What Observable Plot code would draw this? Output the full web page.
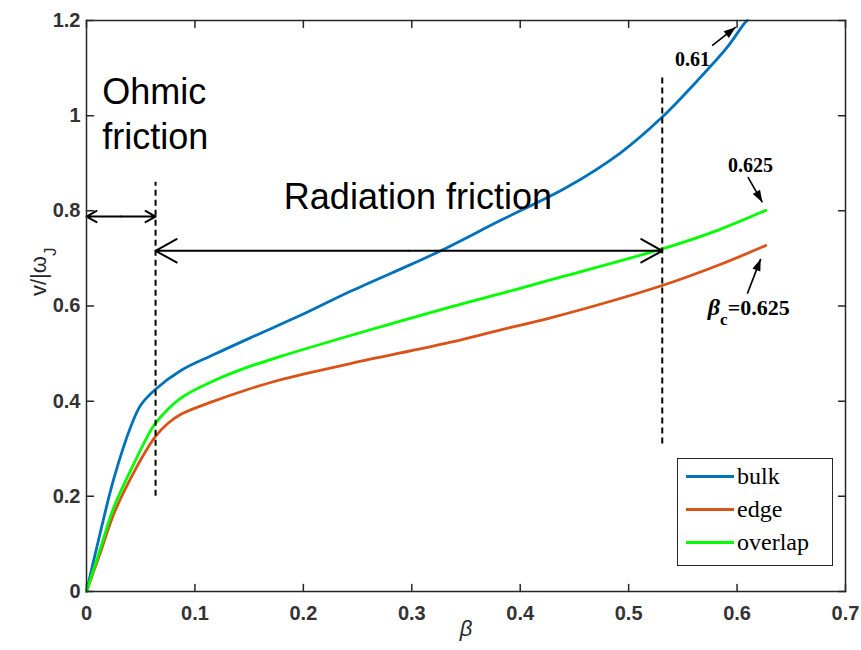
<!DOCTYPE html>
<html><head><meta charset="utf-8">
<script src="https://cdn.jsdelivr.net/npm/d3@7"></script>
<script src="https://cdn.jsdelivr.net/npm/@observablehq/plot@0.6"></script>
<style>
body{margin:0;background:#fff;}
#wrap{position:relative;width:861px;height:650px;}
#legend{position:absolute;left:677px;top:458px;width:156px;height:108px;border:1.5px solid #262626;background:#fff;box-sizing:border-box;font-family:"Liberation Serif","Times New Roman",serif;font-size:24px;color:#000;}
.row{position:absolute;left:8px;height:26px;display:flex;align-items:center;}
.sw{width:48px;height:3px;margin-right:3px;}
</style></head><body><div id="wrap"><div id="chart"></div><div id="legend"></div></div>
<script>
// ---- data ----
const seriesNames = ["bulk", "edge", "overlap"];
const seriesColors = ["#0072BD", "#D95319", "#00FF00"];

const bulkBeta = [0, 0.0125, 0.0252, 0.0406, 0.0498, 0.0637, 0.0867, 0.1175, 0.151, 0.2, 0.2435, 0.3, 0.3266, 0.382, 0.4434, 0.4926, 0.531, 0.5664, 0.591, 0.6064, 0.6094];
const bulkV    = [0, 0.122, 0.237, 0.345, 0.391, 0.425, 0.464, 0.498, 0.533, 0.583, 0.631, 0.688, 0.716, 0.780, 0.850, 0.922, 0.997, 1.081, 1.144, 1.193, 1.2];

const edgeBeta = [0, 0.0125, 0.0252, 0.0406, 0.056, 0.0637, 0.0744, 0.0867, 0.1175, 0.148, 0.179, 0.2435, 0.336, 0.382, 0.428, 0.531, 0.582, 0.6264];
const edgeV    = [0, 0.080, 0.163, 0.237, 0.300, 0.326, 0.352, 0.372, 0.400, 0.424, 0.445, 0.479, 0.524, 0.550, 0.575, 0.643, 0.685, 0.727];

const overlapBeta = [0, 0.0125, 0.0252, 0.0406, 0.056, 0.0637, 0.0867, 0.1175, 0.148, 0.179, 0.2435, 0.336, 0.382, 0.428, 0.531, 0.582, 0.6264];
const overlapV    = [0, 0.088, 0.177, 0.254, 0.325, 0.354, 0.406, 0.443, 0.471, 0.494, 0.538, 0.598, 0.626, 0.655, 0.720, 0.759, 0.801];

const xTicks = [0, 0.1, 0.2, 0.3, 0.4, 0.5, 0.6, 0.7];
const yTicks = [0, 0.2, 0.4, 0.6, 0.8, 1, 1.2];

// regime boundaries (β) and dashed-line extents (v)
const boundaryBeta = [0.0637, 0.531];
const boundaryBottom = [0.2, 0.31];
const boundaryTop = [0.86, 1.08];
// double arrows
const spanStart = [0, 0.0637];
const spanEnd = [0.0637, 0.531];
const spanLevel = [0.788, 0.716];
// pointer arrows to curve ends
const pointerFromBeta = [0.577, 0.610, 0.6095];
const pointerFromV = [1.147, 0.871, 0.626];
const pointerToBeta = [0.5987, 0.6233, 0.6218];
const pointerToV = [1.186, 0.818, 0.699];
const pointerDashed = [true, true, false];

const regionTexts = ["Ohmic", "friction", "Radiation friction"];
const regionTextBeta = [0.0145, 0.0145, 0.182];
const regionTextV = [1.025, 0.930, 0.804];
const endTexts = ["0.61", "0.625"];
const endTextBeta = [0.5427, 0.5916];
const endTextV = [1.105, 0.881];
const criticalText = "β";
const criticalSub = "c";
const criticalValue = "=0.625";
const criticalBeta = 0.573, criticalV = 0.582;
const yLabelMain = "v/|ω";
const yLabelSub = "J";
const xLabel = "β";

// ---- layout ----
const W = 861, H = 650, mL = 86, mR = 16, mT = 20, mB = 59;
const xDomain = [0, 0.7], yDomain = [0, 1.2];
const px = d3.scaleLinear(xDomain, [mL, W - mR]);
const py = d3.scaleLinear(yDomain, [H - mB, mT]);

// ---- tables ----
const rows = [
  ...bulkBeta.map((b, i) => ({beta: b, v: bulkV[i], series: "bulk"})),
  ...edgeBeta.map((b, i) => ({beta: b, v: edgeV[i], series: "edge"})),
  ...overlapBeta.map((b, i) => ({beta: b, v: overlapV[i], series: "overlap"}))
];
const bounds = boundaryBeta.map((b, i) => ({b, y1: boundaryBottom[i], y2: boundaryTop[i]}));
const halfArrows = spanStart.flatMap((s, i) => {
  const m = (s + spanEnd[i]) / 2;
  return [{x1: m, x2: s, y: spanLevel[i]}, {x1: m, x2: spanEnd[i], y: spanLevel[i]}];
});
const pointers = pointerFromBeta.map((b, i) => {
  const dx = px(pointerToBeta[i]) - px(b), dy = py(pointerToV[i]) - py(pointerFromV[i]);
  return {x1: b, y1: pointerFromV[i], x2: pointerToBeta[i], y2: pointerToV[i], dashed: pointerDashed[i],
          angle: Math.atan2(dx, -dy) * 180 / Math.PI};
});
const regionLabels = regionTexts.map((t, i) => ({t, x: regionTextBeta[i], y: regionTextV[i]}));
const endLabels = endTexts.map((t, i) => ({t, x: endTextBeta[i], y: endTextV[i]}));

const tickShape = {draw(ctx, l) { ctx.moveTo(0, 0); ctx.lineTo(0, -l); }};
const headSymbol = {draw(ctx) { ctx.moveTo(0, 0); ctx.lineTo(-4.2, 12); ctx.lineTo(4.2, 12); ctx.closePath(); }};
const axisColor = "#262626";
const serif = "'Liberation Serif', 'Times New Roman', serif";

const plot = Plot.plot({
  width: W, height: H,
  marginLeft: mL, marginRight: mR, marginTop: mT, marginBottom: mB,
  style: {fontFamily: "'Liberation Sans', Arial, sans-serif", fontSize: "20px", background: "#fff"},
  x: {domain: xDomain},
  y: {domain: yDomain},
  color: {domain: seriesNames, range: seriesColors},
  marks: [
    Plot.axisX({ticks: xTicks, tickSize: 0, tickPadding: 14, tickFormat: d3.format("~g"), label: null, fontWeight: "bold", fontSize: 20, color: "#333"}),
    Plot.axisY({ticks: yTicks, tickSize: 0, tickPadding: 6, tickFormat: d3.format("~g"), label: null, fontWeight: "bold", fontSize: 20, color: "#333"}),
    Plot.vector(xTicks, {x: d => d, frameAnchor: "bottom", anchor: "start", length: 7, rotate: 0, shape: tickShape, stroke: axisColor, strokeWidth: 1.5}),
    Plot.vector(xTicks, {x: d => d, frameAnchor: "top", anchor: "start", length: 7, rotate: 180, shape: tickShape, stroke: axisColor, strokeWidth: 1.5}),
    Plot.vector(yTicks, {y: d => d, frameAnchor: "left", anchor: "start", length: 7, rotate: 90, shape: tickShape, stroke: axisColor, strokeWidth: 1.5}),
    Plot.vector(yTicks, {y: d => d, frameAnchor: "right", anchor: "start", length: 7, rotate: -90, shape: tickShape, stroke: axisColor, strokeWidth: 1.5}),
    Plot.line(rows, {x: "beta", y: "v", z: "series", stroke: "series", strokeWidth: 2.8, curve: "catmull-rom"}),
    Plot.ruleX(bounds, {x: "b", y1: "y1", y2: "y2", stroke: "#000", strokeWidth: 2, strokeDasharray: "6,4"}),
    Plot.arrow(halfArrows, {x1: "x1", x2: "x2", y1: "y", y2: "y", stroke: "#000", strokeWidth: 2, headLength: 18, headAngle: 58}),
    Plot.link(pointers, {x1: "x1", y1: "y1", x2: "x2", y2: "y2", stroke: "#000", strokeWidth: 1.6, strokeDasharray: d => d.dashed ? "4,3" : null}),
    Plot.dot(pointers, {x: "x2", y: "y2", rotate: "angle", symbol: headSymbol, r: 1, fill: "#000", stroke: "none"}),
    Plot.text(regionLabels, {x: "x", y: "y", text: "t", textAnchor: "start", lineAnchor: "bottom", fontSize: 36, fill: "#000"}),
    Plot.text(endLabels, {x: "x", y: "y", text: "t", textAnchor: "start", lineAnchor: "bottom", fontSize: 20, fontWeight: "bold", fontFamily: serif, fill: "#000"}),
    Plot.text([criticalText], {x: [criticalBeta], y: [criticalV], text: d => d, textAnchor: "start", lineAnchor: "bottom", fontSize: 24, fontStyle: "italic", fontWeight: "bold", fontFamily: serif, fill: "#000"}),
    Plot.text([yLabelMain], {y: [0.672], frameAnchor: "left", dx: -48, rotate: -90, text: d => d, textAnchor: "middle", fontSize: 22, fill: axisColor}),
    Plot.text([xLabel], {x: [0.35], frameAnchor: "bottom", dy: 44, text: d => d, textAnchor: "middle", fontSize: 22, fontStyle: "italic", fill: axisColor}),
    Plot.frame({stroke: axisColor, strokeWidth: 1.5})
  ]
});
document.getElementById("chart").appendChild(plot);

// subscripts appended as tspans to the text elements
function attrUp(el, name) {
  while (el && el.getAttribute) { const v = el.getAttribute(name); if (v) return v; el = el.parentNode; }
  return null;
}
d3.select(plot).selectAll("text").each(function() {
  const s = this.textContent;
  const t = d3.select(this);
  if (s === yLabelMain) {
    t.append("tspan").attr("baseline-shift", "sub").attr("font-size", "17px").text(yLabelSub);
  } else if (s === criticalText && attrUp(this, "font-weight") === "bold") {
    t.append("tspan").attr("baseline-shift", "sub").attr("font-size", "17px").attr("font-style", "normal").text(criticalSub);
    t.append("tspan").attr("font-size", "22px").attr("font-style", "normal").text(criticalValue);
  }
});

// legend
const legend = d3.select("#legend");
seriesNames.forEach((name, i) => {
  const row = legend.append("div").attr("class", "row").style("top", (4 + i * 33) + "px");
  row.append("div").attr("class", "sw").style("background", seriesColors[i]);
  row.append("span").text(name);
});
</script></body></html>
